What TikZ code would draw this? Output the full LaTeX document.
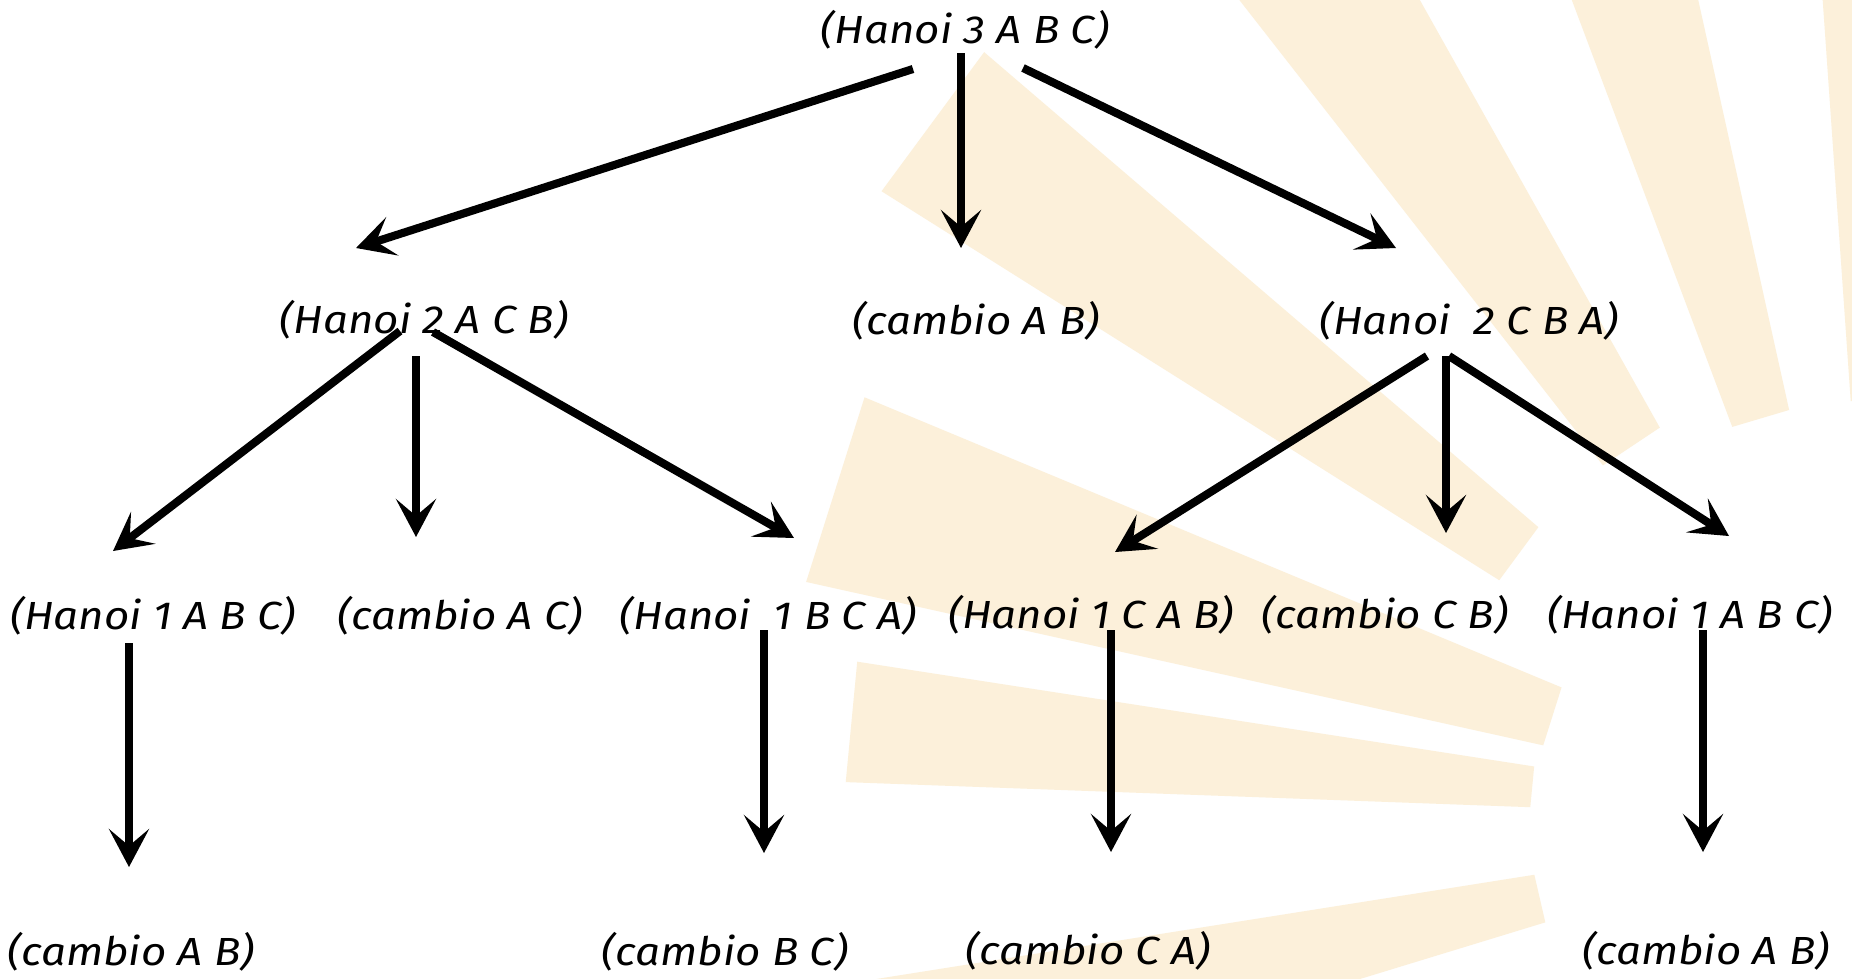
\documentclass[tikz,border=0pt]{standalone}
\usepackage{fontspec}
\setmainfont{Fira Sans}[FakeStretch=1.12]
\usetikzlibrary{arrows.meta, positioning, calc}

\definecolor{raybeige}{RGB}{252,240,218}

\begin{document}
\begin{tikzpicture}[
  x=0.01cm, y=-0.01cm,
  call/.style={inner sep=0pt},
  arrow/.style={-{Stealth[length=10.8pt, width=11.4pt, inset=4.8pt]}, line width=2.3pt},
  ray/.style={fill=raybeige, draw=none},
  every node/.style={font=\fontsize{11.15}{13}\selectfont\itshape}
]

% BACKGROUND
\fill[white] (0,0) rectangle (1852,978);
\useasboundingbox (0,0) rectangle (1852,978);
\begin{scope}
\clip (0,0) rectangle (1852,978);
\foreach \a/\b/\ri/\ro in {86/94/420/1400, 102.5/110.6/420/1400, 119.3/128/450/1400,
  139.4/147.8/450/1180, 157.4/167.5/345/1100, 171.2/177.9/350/1035, 189/197/350/1100}
  \fill[ray, shift={(1880,820)}] (-\a:\ri) -- (-\a:\ro) -- (-\b:\ro) -- (-\b:\ri) -- cycle;
\end{scope}

% ROOT
\node[call] (h3abc) at (965,30) {(Hanoi 3 A B C)};

% FIRST LEVEL
\node[call] (h2acb) at (424,320) {(Hanoi 2 A C B)};
\node[call] (cab1) at (976,321) {(cambio A B)};
\node[call] (h2cba) at (1469,321) {(Hanoi~~2 C B A)};

% SECOND LEVEL
\node[call] (h1abc) at (153,616) {(Hanoi 1 A B C)};
\node[call] (cac) at (460,616) {(cambio A C)};
\node[call] (h1bca) at (768,616) {(Hanoi~~1 B C A)};
\node[call] (h1cab) at (1091,615) {(Hanoi 1 C A B)};
\node[call] (ccb) at (1385,615) {(cambio C B)};
\node[call] (h1abc2) at (1690,615) {(Hanoi 1 A B C)};

% LEAVES
\node[call] (cab2) at (131,952) {(cambio A B)};
\node[call] (cbc) at (725,952) {(cambio B C)};
\node[call] (cca) at (1088,951) {(cambio C A)};
\node[call] (cab3) at (1706,951) {(cambio A B)};

% Connections from root
\draw[arrow] ([shift={(-52,39)}]h3abc.center) -- ([shift={(-68,-72)}]h2acb.center);
\draw[arrow] ([shift={(-4,23)}]h3abc.center) -- ([shift={(-15,-73)}]cab1.center);
\draw[arrow] ([shift={(58,38)}]h3abc.center) -- ([shift={(-73,-73)}]h2cba.center);

% Connections from first level
\draw[arrow] ([shift={(-24,11)}]h2acb.center) -- ([shift={(-40,-65)}]h1abc.center);
\draw[arrow] ([shift={(-8,36)}]h2acb.center) -- ([shift={(-44,-79)}]cac.center);
\draw[arrow] ([shift={(9,12)}]h2acb.center) -- ([shift={(26,-78)}]h1bca.center);
\draw[arrow] ([shift={(-42,35)}]h2cba.center) -- ([shift={(24,-63)}]h1cab.center);
\draw[arrow] ([shift={(-23,35)}]h2cba.center) -- ([shift={(61,-82)}]ccb.center);
\draw[arrow] ([shift={(-20,35)}]h2cba.center) -- ([shift={(39,-79)}]h1abc2.center);

% Connections to leaves
\draw[arrow] ([shift={(-24,27)}]h1abc.center) -- ([shift={(-2,-85)}]cab2.center);
\draw[arrow] ([shift={(-4,14)}]h1bca.center) -- ([shift={(39,-99)}]cbc.center);
\draw[arrow] ([shift={(20,15)}]h1cab.center) -- ([shift={(23,-99)}]cca.center);
\draw[arrow] ([shift={(13,15)}]h1abc2.center) -- ([shift={(-3,-99)}]cab3.center);

\end{tikzpicture}
\end{document}
